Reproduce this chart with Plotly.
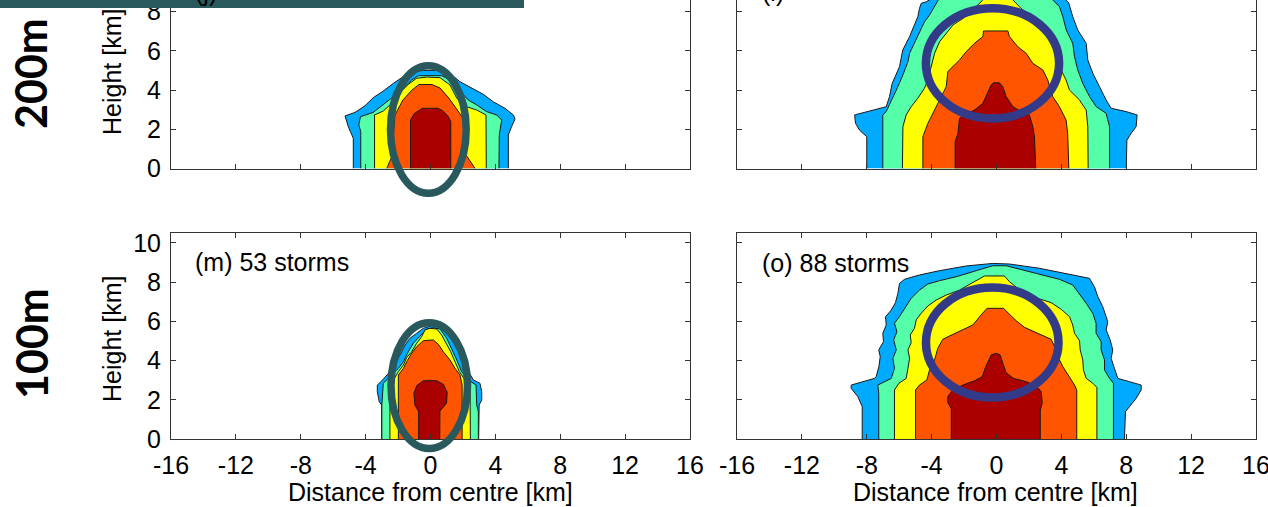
import plotly.graph_objects as go

# ---------------- data (km): contour outlines, (distance, height) pairs ----------------
LEVEL_NAMES = ["level 1", "level 2", "level 3", "level 4", "level 5"]
LEVEL_COLORS = ["#00AAFF", "#55FFAA", "#FFFF00", "#FF5500", "#AA0000"]

X_TICKS = [-16, -12, -8, -4, 0, 4, 8, 12, 16]
X_TICK_LABELS = ["-16", "-12", "-8", "-4", "0", "4", "8", "12", "16"]
Y_TICKS = [0, 2, 4, 6, 8, 10]
Y_TICK_LABELS = ["0", "2", "4", "6", "8", "10"]

ROW_LABELS = ["200m", "100m"]
PANEL_LABELS = ["(j)", "(l)", "(m) 53 storms", "(o) 88 storms"]

# top-left panel (200 m)
TL_BLUE = [(-4.76, 0), (-4.76, 1.54), (-5.07, 2.13), (-5.27, 2.68), (-4.65, 2.86), (-4.04, 3.20),
           (-3.53, 3.61), (-2.91, 3.95), (-2.29, 4.34), (-1.68, 4.68), (-1.06, 4.93), (-0.44, 5.0),
           (0.59, 5.0), (1.20, 4.85), (1.82, 4.42), (2.54, 4.09), (3.26, 3.78), (3.87, 3.40),
           (4.59, 3.07), (5.11, 2.73), (5.21, 2.52), (5.0, 2.13), (4.80, 1.71), (4.80, 0)]
TL_AQUA = [(-4.30, 0), (-4.30, 1.88), (-4.42, 2.22), (-4.32, 2.64), (-3.53, 2.86), (-2.91, 3.24),
           (-2.29, 3.66), (-1.68, 4.09), (-1.16, 4.51), (-0.75, 4.73), (0.69, 4.73), (1.20, 4.51),
           (1.82, 3.92), (2.33, 3.49), (2.85, 3.24), (3.46, 2.90), (4.08, 2.73), (4.39, 2.47),
           (4.24, 1.71), (4.22, 0)]
TL_YELLOW = [(-3.45, 0), (-3.45, 2.73), (-2.91, 2.93), (-2.29, 3.40), (-1.78, 3.95), (-1.37, 4.29),
             (-0.85, 4.60), (-0.23, 4.66), (0.59, 4.63), (1.20, 4.26), (1.62, 3.58), (2.23, 3.15),
             (2.85, 2.98), (3.42, 2.73), (3.44, 0)]
TL_ORANGE = [(-2.70, 0), (-2.39, 0.59), (-2.31, 1.45), (-2.19, 2.73), (-1.70, 3.49), (-1.14, 4.0),
             (-0.71, 4.28), (0.09, 4.28), (0.59, 4.10), (1.08, 3.64), (1.57, 3.08), (2.0, 2.57),
             (2.13, 1.96), (2.19, 0.69), (2.75, 0)]
TL_RED = [(-1.23, 0), (-1.23, 2.47), (-1.0, 2.8), (-0.65, 3.02), (-0.5, 3.07), (0.45, 3.07),
          (0.75, 2.95), (1.05, 2.7), (1.25, 2.4), (1.25, 0)]

# top-right panel (200 m)
TR_BLUE = [(-8.0, 0), (-8.0, 1.62), (-8.45, 1.96), (-8.69, 2.30), (-8.75, 2.73), (-7.52, 2.98),
           (-6.80, 3.15), (-6.60, 3.66), (-6.43, 4.34), (-5.98, 5.19), (-5.78, 6.04), (-5.36, 6.72),
           (-5.20, 7.06), (-4.85, 7.74), (-4.75, 8.16), (-4.64, 8.42), (-4.33, 8.50), (-3.71, 8.8),
           (0.0, 9.4), (3.9, 8.9), (4.45, 8.45), (4.70, 7.74), (5.01, 7.06), (5.53, 6.38),
           (5.63, 5.53), (5.94, 4.85), (6.35, 4.17), (6.76, 3.49), (7.07, 3.07), (8.0, 2.90),
           (8.67, 2.73), (8.61, 2.13), (8.30, 1.79), (8.04, 1.45), (8.0, 0)]
TR_AQUA = [(-7.01, 0), (-7.01, 2.73), (-6.80, 2.90), (-6.60, 3.24), (-6.39, 3.66), (-6.08, 4.17),
           (-5.77, 4.77), (-5.46, 5.44), (-5.36, 5.87), (-5.06, 6.38), (-4.74, 6.89), (-4.44, 7.48),
           (-4.13, 7.82), (-3.82, 8.25), (-3.62, 8.59), (-3.3, 9.0), (0.0, 9.2), (3.2, 9.0),
           (3.47, 8.59), (3.88, 8.25), (4.09, 7.74), (4.30, 7.06), (4.70, 6.38), (4.81, 5.70),
           (5.01, 5.02), (5.32, 4.34), (5.74, 3.66), (6.15, 3.15), (6.76, 2.81), (6.97, 2.13),
           (6.97, 0)]
TR_YELLOW = [(-5.80, 0), (-5.77, 2.13), (-5.57, 2.73), (-5.26, 3.15), (-4.85, 3.58), (-4.44, 4.09),
             (-4.23, 4.51), (-4.02, 5.19), (-3.82, 5.87), (-3.51, 6.46), (-3.10, 6.89), (-2.69, 7.31),
             (-2.07, 7.65), (-1.46, 8.08), (-0.84, 8.59), (-0.5, 8.9), (0.7, 8.9), (1.01, 8.59),
             (1.52, 8.16), (2.03, 7.82), (2.65, 7.40), (3.16, 6.89), (3.68, 6.04), (3.88, 5.19),
             (4.29, 4.51), (4.50, 4.00), (5.12, 3.49), (5.53, 2.98), (5.63, 2.13), (5.65, 0)]
TR_ORANGE = [(-4.54, 0), (-4.54, 1.62), (-4.23, 2.30), (-3.92, 2.81), (-3.51, 3.49), (-3.10, 4.17),
             (-3.0, 4.94), (-2.69, 5.19), (-2.28, 5.53), (-1.87, 5.95), (-1.36, 6.38), (-0.84, 6.72),
             (-0.80, 7.01), (0.70, 7.01), (0.80, 6.72), (1.31, 6.21), (1.83, 5.87), (2.24, 5.36),
             (2.86, 5.02), (3.16, 4.51), (3.47, 3.66), (3.88, 3.15), (4.29, 2.47), (4.39, 1.79),
             (4.46, 0)]
TR_RED = [(-2.55, 0), (-2.55, 1.37), (-2.38, 1.79), (-2.28, 2.56), (-1.97, 2.73), (-1.36, 2.98),
          (-0.84, 3.32), (-0.53, 3.92), (-0.33, 4.26), (-0.18, 4.37), (0.18, 4.37), (0.39, 4.17),
          (0.60, 3.66), (1.01, 3.15), (1.52, 2.90), (2.03, 2.73), (2.24, 2.13), (2.34, 1.62),
          (2.42, 0)]

# bottom-left panel (100 m)
BL_BLUE = [(-3.01, 0), (-3.01, 1.73), (-3.16, 1.90), (-3.28, 2.41), (-3.28, 2.75), (-3.01, 2.96),
           (-2.50, 3.43), (-1.88, 4.28), (-1.57, 4.79), (-1.27, 5.13), (-0.85, 5.39), (-0.44, 5.64),
           (0.07, 5.78), (0.59, 5.73), (1.10, 5.39), (1.51, 4.96), (1.92, 4.28), (2.23, 3.60),
           (2.64, 3.01), (3.05, 2.84), (3.16, 2.41), (3.16, 1.99), (3.0, 1.73), (2.97, 0)]
BL_AQUA = [(-3.0, 0), (-3.0, 1.73), (-2.91, 2.84), (-2.50, 3.18), (-1.98, 3.60), (-1.67, 3.94),
           (-1.37, 4.45), (-1.06, 4.88), (-0.65, 5.22), (-0.23, 5.61), (0.17, 5.67), (0.59, 5.61),
           (1.0, 5.13), (1.31, 4.62), (1.62, 4.03), (1.92, 3.43), (2.33, 3.01), (2.81, 2.75),
           (2.85, 1.73), (2.95, 1.39), (2.95, 0)]
BL_YELLOW = [(-2.50, 0), (-2.50, 2.58), (-2.29, 3.01), (-1.98, 3.43), (-1.67, 3.77), (-1.47, 4.15),
             (-1.16, 4.45), (-0.85, 4.88), (-0.54, 5.22), (-0.34, 5.56), (-0.03, 5.64), (0.38, 5.61),
             (0.69, 5.30), (0.96, 4.88), (1.24, 4.45), (1.51, 3.94), (1.78, 3.43), (2.13, 3.01),
             (2.44, 2.67), (2.46, 0)]
BL_ORANGE = [(-1.98, 0), (-1.98, 3.26), (-1.67, 3.60), (-1.47, 3.94), (-1.16, 4.37), (-0.85, 4.71),
             (-0.44, 5.01), (0.17, 5.05), (0.48, 4.83), (0.79, 4.45), (1.20, 4.03), (1.51, 3.60),
             (1.82, 3.26), (1.95, 2.75), (1.95, 0)]
BL_RED = [(-0.73, 0), (-0.73, 1.39), (-0.96, 1.73), (-1.02, 2.33), (-0.85, 2.72), (-0.44, 2.97),
          (0.38, 2.97), (0.79, 2.79), (1.03, 2.38), (0.99, 1.82), (0.58, 1.43), (0.57, 0)]

# bottom-right panel (100 m)
BR_BLUE = [(-8.28, 0), (-8.28, 1.65), (-8.55, 2.16), (-8.96, 2.58), (-8.96, 2.75), (-8.24, 2.92),
           (-7.52, 3.09), (-7.42, 3.18), (-7.25, 3.69), (-7.17, 4.20), (-7.26, 4.54), (-6.97, 4.96),
           (-7.01, 5.39), (-6.80, 5.81), (-6.84, 6.23), (-6.49, 6.57), (-6.23, 6.95), (-6.08, 7.42),
           (-5.98, 7.93), (-5.67, 8.14), (-4.75, 8.36), (-3.51, 8.58), (-1.87, 8.82), (-0.23, 8.95),
           (0.80, 8.92), (2.65, 8.70), (4.50, 8.41), (5.73, 8.19), (6.04, 7.76), (6.25, 7.25),
           (6.55, 6.75), (6.86, 5.98), (6.76, 5.56), (7.01, 5.05), (7.17, 4.54), (7.07, 4.11),
           (7.27, 3.60), (7.48, 3.09), (8.20, 2.92), (8.92, 2.75), (8.92, 2.50), (8.61, 2.07),
           (8.20, 1.65), (7.95, 1.39), (7.89, 0)]
BR_AQUA = [(-7.26, 0), (-7.26, 2.33), (-7.32, 2.75), (-6.49, 3.09), (-6.29, 3.60), (-6.39, 4.11),
           (-6.18, 4.54), (-6.34, 5.05), (-6.14, 5.47), (-6.29, 5.90), (-5.98, 6.24), (-5.67, 6.66),
           (-5.26, 7.17), (-4.75, 7.59), (-4.23, 7.90), (-3.51, 8.07), (-2.49, 8.27), (-1.25, 8.58),
           (-0.23, 8.83), (0.60, 8.83), (1.62, 8.61), (2.86, 8.36), (3.88, 8.14), (4.70, 7.85),
           (5.11, 7.42), (5.53, 6.92), (5.94, 6.40), (6.14, 5.90), (6.14, 5.39), (6.45, 4.96),
           (6.45, 4.54), (6.66, 4.03), (6.66, 3.52), (6.97, 3.09), (7.21, 2.84), (7.21, 0)]
BR_YELLOW = [(-6.29, 0), (-6.29, 2.50), (-6.02, 2.84), (-5.57, 3.09), (-5.46, 3.60), (-5.36, 4.11),
             (-5.46, 4.54), (-5.26, 4.91), (-5.32, 5.30), (-5.06, 5.64), (-4.95, 6.07), (-4.64, 6.41),
             (-4.23, 6.78), (-3.72, 7.08), (-3.10, 7.34), (-2.28, 7.59), (-1.56, 7.93), (-1.05, 8.19),
             (-0.74, 8.31), (0.49, 8.31), (0.80, 8.02), (1.31, 7.68), (1.83, 7.42), (2.55, 7.17),
             (3.37, 6.95), (3.99, 6.61), (4.50, 6.24), (4.70, 5.81), (4.81, 5.39), (5.12, 5.01),
             (5.16, 4.54), (5.32, 4.03), (5.36, 3.52), (5.53, 3.09), (5.94, 2.84), (6.19, 2.63),
             (6.19, 0)]
BR_ORANGE = [(-4.99, 0), (-4.99, 2.50), (-4.75, 2.75), (-4.29, 3.01), (-4.13, 3.52), (-3.82, 4.03),
             (-3.62, 4.62), (-3.31, 5.08), (-2.90, 5.25), (-2.18, 5.52), (-1.46, 5.81), (-0.95, 6.32),
             (-0.58, 6.66), (0.43, 6.66), (0.80, 6.37), (1.21, 6.03), (1.73, 5.69), (2.34, 5.47),
             (2.96, 5.25), (3.37, 5.08), (3.58, 4.71), (3.78, 4.20), (4.09, 3.69), (4.50, 3.18),
             (4.81, 2.75), (4.95, 2.50), (4.95, 0)]
BR_RED = [(-2.79, 0), (-2.79, 1.56), (-3.0, 1.85), (-3.0, 2.16), (-2.69, 2.50), (-2.07, 2.75),
          (-1.35, 2.97), (-0.88, 3.18), (-0.68, 3.65), (-0.47, 4.03), (-0.33, 4.28), (-0.02, 4.37),
          (0.23, 4.28), (0.39, 3.86), (0.60, 3.38), (1.05, 3.09), (1.83, 2.92), (2.45, 2.70),
          (2.76, 2.41), (2.82, 1.82), (2.70, 1.48), (2.70, 0)]

PANELS = [
    [TL_BLUE, TL_AQUA, TL_YELLOW, TL_ORANGE, TL_RED],
    [TR_BLUE, TR_AQUA, TR_YELLOW, TR_ORANGE, TR_RED],
    [BL_BLUE, BL_AQUA, BL_YELLOW, BL_ORANGE, BL_RED],
    [BR_BLUE, BR_AQUA, BR_YELLOW, BR_ORANGE, BR_RED],
]

# ---------------- layout helpers ----------------
W, H = 1268, 507
KM_PX_Y = 19.62  # vertical scale (px per km)


def px(x):
    return x / W


def py(y):
    return 1 - y / H


FONT = "Liberation Sans, Arial, sans-serif"
AXCOL = "#333333"

fig = go.Figure()

axis_ids = ["", "2", "3", "4"]
for i, levels in enumerate(PANELS):
    for name, color, pts in zip(LEVEL_NAMES, LEVEL_COLORS, levels):
        fig.add_trace(go.Scatter(
            x=[p[0] for p in pts], y=[p[1] for p in pts],
            mode="lines", fill="toself", fillcolor=color,
            line=dict(color="#1a1a1a", width=1),
            name=name, showlegend=False, hoverinfo="skip",
            xaxis="x" + axis_ids[i], yaxis="y" + axis_ids[i],
        ))

x_left = [px(171), px(690)]
x_right = [px(737), px(1256)]
y_top = [py(168.5), 1.0]
y_bot = [py(439), py(233)]
top_range = [0, 168.5 / KM_PX_Y]

common_x = dict(range=[-16, 16], tickmode="array", tickvals=X_TICKS, ticktext=X_TICK_LABELS,
                ticks="inside", ticklen=5, tickwidth=1, automargin=False, ticklabeloverflow="allow",
                tickcolor=AXCOL, showline=True, linecolor=AXCOL, linewidth=1, showgrid=False,
                zeroline=False, tickfont=dict(family=FONT, size=25, color="black"))
common_y = dict(tickmode="array", tickvals=Y_TICKS, ticktext=Y_TICK_LABELS, ticks="inside",
                ticklen=5, tickwidth=1, tickcolor=AXCOL, automargin=False, ticklabeloverflow="allow",
                showline=True, linecolor=AXCOL, linewidth=1, showgrid=False, zeroline=False,
                mirror="ticks", tickfont=dict(family=FONT, size=25, color="black"))

fig.update_layout(
    template="none",
    width=W, height=H, margin=dict(l=0, r=0, t=0, b=0, pad=0, autoexpand=False),
    paper_bgcolor="white", plot_bgcolor="white", showlegend=False,
    xaxis=dict(common_x, domain=x_left, anchor="y", showticklabels=False, mirror=False),
    yaxis=dict(common_y, domain=y_top, anchor="x", range=top_range, ticklabelstandoff=4),
    xaxis2=dict(common_x, domain=x_right, anchor="y2", showticklabels=False, mirror=False),
    yaxis2=dict(common_y, domain=y_top, anchor="x2", range=top_range, showticklabels=False),
    xaxis3=dict(common_x, domain=x_left, anchor="y3", mirror="ticks", ticklabelstandoff=4),
    yaxis3=dict(common_y, domain=y_bot, anchor="x3", range=[0, 10.5], ticklabelstandoff=4),
    xaxis4=dict(common_x, domain=x_right, anchor="y4", mirror="ticks", ticklabelstandoff=4),
    yaxis4=dict(common_y, domain=y_bot, anchor="x4", range=[0, 10.5], showticklabels=False),
)

annotations = []
txt = dict(family=FONT, size=25, color="black")
# axis titles
for yc in (72, 339):
    annotations.append(dict(text="Height [km]", x=px(112), y=py(yc), xref="paper", yref="paper",
                            textangle=-90, showarrow=False, font=txt, xanchor="center", yanchor="middle"))
for xc in (430, 995):
    annotations.append(dict(text="Distance from centre [km]", x=px(xc), y=py(492), xref="paper",
                            yref="paper", showarrow=False, font=txt, xanchor="center", yanchor="middle"))
# panel labels
for lab, (xl, yc) in zip(PANEL_LABELS, [(193, -8.5), (760, -8.5), (193, 262), (760, 263)]):
    annotations.append(dict(text=lab, x=px(xl), y=py(yc), xref="paper", yref="paper",
                            showarrow=False, font=txt, xanchor="left", yanchor="middle"))
# row labels
for lab, yc in zip(ROW_LABELS, (74, 344)):
    annotations.append(dict(text="<b>%s</b>" % lab, x=px(31), y=py(yc), xref="paper", yref="paper",
                            textangle=-90, showarrow=False,
                            font=dict(family="Lato, Open Sans, sans-serif", size=43, color="black"),
                            xanchor="center", yanchor="middle"))
fig.update_layout(annotations=annotations)

TEAL = "#29585d"
NAVY = "#333a87"
shapes = [
    # highlight ellipses
    dict(type="circle", xref="paper", yref="paper", x0=px(390.5), x1=px(466.2), y0=py(193.3), y1=py(65.8),
         line=dict(color=TEAL, width=7.5), fillcolor="rgba(0,0,0,0)", layer="above"),
    dict(type="circle", xref="paper", yref="paper", x0=px(391.0), x1=px(467.5), y0=py(448.5), y1=py(322.8),
         line=dict(color=TEAL, width=7.5), fillcolor="rgba(0,0,0,0)", layer="above"),
    dict(type="circle", xref="paper", yref="paper", x0=px(925.9), x1=px(1059.1), y0=py(118.5), y1=py(8.2),
         line=dict(color=NAVY, width=8.5), fillcolor="rgba(0,0,0,0)", layer="above"),
    dict(type="circle", xref="paper", yref="paper", x0=px(926.0), x1=px(1058.5), y0=py(397.5), y1=py(287.5),
         line=dict(color=NAVY, width=8.5), fillcolor="rgba(0,0,0,0)", layer="above"),
    # title bar fragment at top
    dict(type="rect", xref="paper", yref="paper", x0=0, x1=px(524), y0=py(8), y1=1.02,
         line=dict(width=0), fillcolor=TEAL, layer="above"),
]
fig.update_layout(shapes=shapes)

fig.write_html(
    "out.html",
    config={"displayModeBar": False},
    post_script="document.body.style.margin='0px';document.body.style.overflow='hidden';",
)
